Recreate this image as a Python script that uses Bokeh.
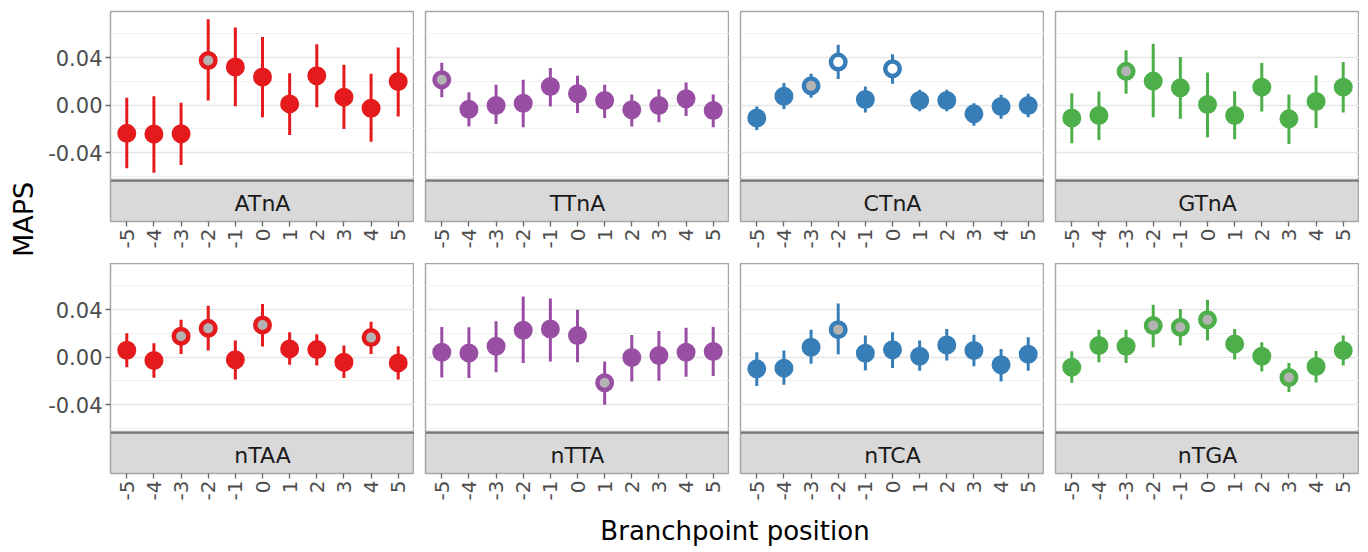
import math
from bokeh.plotting import figure
from bokeh.models import (Range1d, FixedTicker, Grid, Label, Span, ColumnDataSource,
                          NumeralTickFormatter)
from bokeh.layouts import row, column
from bokeh.embed import file_html
from bokeh.resources import INLINE

# ---------------- data ----------------
positions = [-5, -4, -3, -2, -1, 0, 1, 2, 3, 4, 5]
pos_labels = ["-5", "-4", "-3", "-2", "-1", "0", "1", "2", "3", "4", "5"]
y_ticks = [-0.04, 0.0, 0.04]
y_labels = ["-0.04", "0.00", "0.04"]
y_minor = [-0.06, -0.02, 0.02, 0.06]

motifs_top = ["ATnA", "TTnA", "CTnA", "GTnA"]
motifs_bot = ["nTAA", "nTTA", "nTCA", "nTGA"]
colors = ["#e41a1c", "#984ea3", "#377eb8", "#4daf4a"]

# kind: s = solid, g = grey centre, o = open (white centre)
atna_mid = [-0.0237, -0.0242, -0.0240, 0.0377, 0.0321, 0.0237, 0.0011, 0.0248, 0.0068, -0.0025, 0.0200]
atna_lo = [-0.0530, -0.0569, -0.0504, 0.0039, -0.0008, -0.0101, -0.0250, -0.0017, -0.0200, -0.0307, -0.0096]
atna_hi = [0.0062, 0.0076, 0.0020, 0.0724, 0.0654, 0.0575, 0.0270, 0.0513, 0.0341, 0.0265, 0.0485]
atna_kind = ["s", "s", "s", "g", "s", "s", "s", "s", "s", "s", "s"]

ttna_mid = [0.0214, -0.0034, -0.0003, 0.0017, 0.0158, 0.0096, 0.0039, -0.0039, -0.0003, 0.0054, -0.0045]
ttna_lo = [0.0068, -0.0180, -0.0158, -0.0186, -0.0011, -0.0065, -0.0107, -0.0180, -0.0144, -0.0090, -0.0186]
ttna_hi = [0.0358, 0.0110, 0.0172, 0.0214, 0.0313, 0.0248, 0.0172, 0.0090, 0.0135, 0.0192, 0.0090]
ttna_kind = ["g", "s", "s", "s", "s", "s", "s", "s", "s", "s", "s"]

ctna_mid = [-0.0107, 0.0076, 0.0163, 0.0363, 0.0048, 0.0307, 0.0039, 0.0039, -0.0073, -0.0011, -0.0003]
ctna_lo = [-0.0208, -0.0031, 0.0062, 0.0220, -0.0062, 0.0180, -0.0051, -0.0051, -0.0172, -0.0115, -0.0101]
ctna_hi = [-0.0011, 0.0186, 0.0265, 0.0510, 0.0158, 0.0428, 0.0130, 0.0130, 0.0017, 0.0087, 0.0096]
ctna_kind = ["s", "s", "g", "o", "s", "o", "s", "s", "s", "s", "s"]

gtna_mid = [-0.0107, -0.0087, 0.0285, 0.0203, 0.0146, 0.0006, -0.0087, 0.0152, -0.0115, 0.0031, 0.0152]
gtna_lo = [-0.0321, -0.0293, 0.0096, -0.0101, -0.0115, -0.0270, -0.0287, -0.0054, -0.0327, -0.0192, -0.0062]
gtna_hi = [0.0101, 0.0115, 0.0462, 0.0518, 0.0406, 0.0276, 0.0118, 0.0355, 0.0090, 0.0251, 0.0363]
gtna_kind = ["s", "s", "g", "s", "s", "s", "s", "s", "s", "s", "s"]

ntaa_mid = [0.0059, -0.0028, 0.0176, 0.0243, -0.0022, 0.0271, 0.0070, 0.0064, -0.0042, 0.0165, -0.0048]
ntaa_lo = [-0.0084, -0.0173, 0.0028, 0.0056, -0.0187, 0.0090, -0.0064, -0.0070, -0.0176, 0.0028, -0.0187]
ntaa_hi = [0.0201, 0.0117, 0.0316, 0.0434, 0.0140, 0.0448, 0.0210, 0.0193, 0.0098, 0.0299, 0.0092]
ntaa_kind = ["s", "s", "g", "g", "s", "g", "s", "s", "s", "g", "s"]

ntta_mid = [0.0042, 0.0036, 0.0092, 0.0227, 0.0238, 0.0182, -0.0215, -0.0003, 0.0014, 0.0042, 0.0048]
ntta_lo = [-0.0171, -0.0176, -0.0126, -0.0048, -0.0036, -0.0042, -0.0400, -0.0204, -0.0199, -0.0165, -0.0159]
ntta_hi = [0.0255, 0.0252, 0.0302, 0.0512, 0.0495, 0.0400, -0.0036, 0.0187, 0.0221, 0.0249, 0.0255]
ntta_kind = ["s", "s", "s", "s", "s", "s", "g", "s", "s", "s", "s"]

ntca_mid = [-0.0098, -0.0092, 0.0084, 0.0232, 0.0034, 0.0062, 0.0008, 0.0103, 0.0056, -0.0064, 0.0025]
ntca_lo = [-0.0243, -0.0232, -0.0056, 0.0025, -0.0112, -0.0090, -0.0115, -0.0028, -0.0076, -0.0204, -0.0115]
ntca_hi = [0.0042, 0.0056, 0.0232, 0.0453, 0.0182, 0.0210, 0.0140, 0.0238, 0.0190, 0.0070, 0.0168]
ntca_kind = ["s", "s", "s", "g", "s", "s", "s", "s", "s", "s", "s"]

ntga_mid = [-0.0084, 0.0098, 0.0092, 0.0266, 0.0252, 0.0316, 0.0112, 0.0008, -0.0171, -0.0078, 0.0056]
ntga_lo = [-0.0215, -0.0042, -0.0048, 0.0084, 0.0098, 0.0140, -0.0020, -0.0120, -0.0294, -0.0213, -0.0070]
ntga_hi = [0.0050, 0.0232, 0.0232, 0.0442, 0.0406, 0.0484, 0.0238, 0.0126, -0.0048, 0.0053, 0.0182]
ntga_kind = ["s", "s", "s", "g", "g", "g", "s", "s", "g", "s", "s"]

top_data = [(atna_mid, atna_lo, atna_hi, atna_kind), (ttna_mid, ttna_lo, ttna_hi, ttna_kind),
            (ctna_mid, ctna_lo, ctna_hi, ctna_kind), (gtna_mid, gtna_lo, gtna_hi, gtna_kind)]
bot_data = [(ntaa_mid, ntaa_lo, ntaa_hi, ntaa_kind), (ntta_mid, ntta_lo, ntta_hi, ntta_kind),
            (ntca_mid, ntca_lo, ntca_hi, ntca_kind), (ntga_mid, ntga_lo, ntga_hi, ntga_kind)]

# ---------------- style / layout ----------------
FONT = "DejaVu Sans"
GREY_FILL = "#b3b3b3"
X_RANGE = (-5.6, 5.6)
Y_RANGE = (-0.0634, 0.0789)
FRAME_W = 304
LEFT0 = 70
GAP = 11
MAPS_W = 40
H_TOP_MAIN, TOP_BORDER = 180, 11
H_STRIP, STRIP_FRAME = 83, 41
H_BOT_MAIN = 169
H_XLAB = 36
TOTAL_H = H_TOP_MAIN + H_STRIP + H_BOT_MAIN + H_STRIP + H_XLAB


def col_width(c):
    return (LEFT0 if c == 0 else GAP) + FRAME_W


def panel_fig(c, height, top_border, data, color):
    mid, lo, hi, kind = data
    p = figure(width=col_width(c), height=height,
               x_range=Range1d(*X_RANGE), y_range=Range1d(*Y_RANGE),
               output_backend="svg", toolbar_location=None,
               x_axis_location=None, y_axis_location=("left" if c == 0 else None),
               min_border_left=(LEFT0 if c == 0 else GAP), min_border_right=0,
               min_border_top=top_border, min_border_bottom=0)
    p.grid.visible = False
    p.add_layout(Grid(dimension=1, ticker=FixedTicker(ticks=y_ticks, minor_ticks=y_minor),
                      grid_line_color="#e6e6e6", grid_line_width=1.3,
                      minor_grid_line_color="#f1f1f1", minor_grid_line_width=1.0))
    p.background_fill_color = "white"
    p.border_fill_color = "white"
    p.outline_line_color = "#a6a6a6"
    p.outline_line_width = 1.5
    if c == 0:
        ax = p.yaxis[0]
        ax.ticker = FixedTicker(ticks=y_ticks, minor_ticks=[])
        ax.formatter = NumeralTickFormatter(format="0.00")
        ax.major_label_overrides = dict(zip(y_ticks, y_labels))
        ax.major_label_text_font = FONT
        ax.major_label_text_font_size = "21px"
        ax.major_label_text_color = "#4d4d4d"
        ax.axis_line_color = None
        ax.major_tick_line_color = "#666666"
        ax.major_tick_line_width = 1.3
        ax.major_tick_out = 5
        ax.major_tick_in = 0
        ax.minor_tick_line_color = None
        ax.major_label_standoff = 3
    fills = [color if k == "s" else (GREY_FILL if k == "g" else "white") for k in kind]
    src = ColumnDataSource(dict(x=positions, y=mid, lo=lo, hi=hi, fill=fills))
    p.segment(x0="x", y0="lo", x1="x", y1="hi", source=src, line_color=color, line_width=3)
    p.scatter(x="x", y="y", source=src, marker="circle", size=14.5,
              fill_color="fill", line_color=color, line_width=4.5)
    return p


def strip_fig(c, panel, name):
    p = figure(width=col_width(c), height=H_STRIP,
               x_range=panel.x_range, y_range=Range1d(0, 1),
               output_backend="svg", toolbar_location=None,
               x_axis_location="below", y_axis_location=None,
               min_border_left=(LEFT0 if c == 0 else GAP), min_border_right=0,
               min_border_top=0, min_border_bottom=H_STRIP - STRIP_FRAME)
    p.grid.visible = False
    p.background_fill_color = "#d9d9d9"
    p.border_fill_color = "white"
    p.outline_line_color = "#a6a6a6"
    p.outline_line_width = 1.5
    p.add_layout(Span(location=1, dimension="width", line_color="#4d4d4d", line_width=2))
    p.add_layout(Label(x=0, y=0.45, text=name, text_align="center", text_baseline="middle",
                       text_font=FONT, text_font_size="22px", text_color="#1a1a1a"))
    ax = p.xaxis[0]
    ax.ticker = FixedTicker(ticks=positions, minor_ticks=[])
    ax.major_label_overrides = dict(zip(positions, pos_labels))
    ax.major_label_orientation = math.pi / 2
    ax.major_label_text_font = FONT
    ax.major_label_text_font_size = "20px"
    ax.major_label_text_color = "#4d4d4d"
    ax.axis_line_color = None
    ax.major_tick_line_color = "#666666"
    ax.major_tick_line_width = 1.3
    ax.major_tick_out = 5
    ax.major_tick_in = 0
    ax.minor_tick_line_color = None
    ax.major_label_standoff = 2
    return p


top_mains = [panel_fig(c, H_TOP_MAIN, TOP_BORDER, top_data[c], colors[c]) for c in range(4)]
top_strips = [strip_fig(c, top_mains[c], motifs_top[c]) for c in range(4)]
bot_mains = [panel_fig(c, H_BOT_MAIN, 0, bot_data[c], colors[c]) for c in range(4)]
bot_strips = [strip_fig(c, bot_mains[c], motifs_bot[c]) for c in range(4)]

panels_w = sum(col_width(c) for c in range(4))

# x-axis title
xl = figure(width=panels_w, height=H_XLAB, x_range=Range1d(0, panels_w), y_range=Range1d(0, H_XLAB),
            output_backend="svg", toolbar_location=None,
            x_axis_location=None, y_axis_location=None,
            min_border_left=0, min_border_right=0, min_border_top=0, min_border_bottom=0)
xl.grid.visible = False
xl.outline_line_color = None
xl.add_layout(Label(x=LEFT0 + (panels_w - LEFT0) / 2.0, y=H_XLAB - 15, text="Branchpoint position",
                    text_align="center", text_baseline="middle",
                    text_font=FONT, text_font_size="26px", text_color="#000000"))

# y-axis title
yl = figure(width=MAPS_W, height=TOTAL_H, x_range=Range1d(0, MAPS_W), y_range=Range1d(0, TOTAL_H),
            output_backend="svg", toolbar_location=None,
            x_axis_location=None, y_axis_location=None,
            min_border_left=0, min_border_right=0, min_border_top=0, min_border_bottom=0)
yl.grid.visible = False
yl.outline_line_color = None
yl.add_layout(Label(x=22.5, y=TOTAL_H - 219, text="MAPS", angle=math.pi / 2,
                    text_align="center", text_baseline="middle",
                    text_font=FONT, text_font_size="27px", text_color="#000000"))

grid_col = column(row(*top_mains), row(*top_strips), row(*bot_mains), row(*bot_strips), xl)
layout = row(yl, grid_col)

open("out.html", "w").write(file_html(layout, INLINE))
